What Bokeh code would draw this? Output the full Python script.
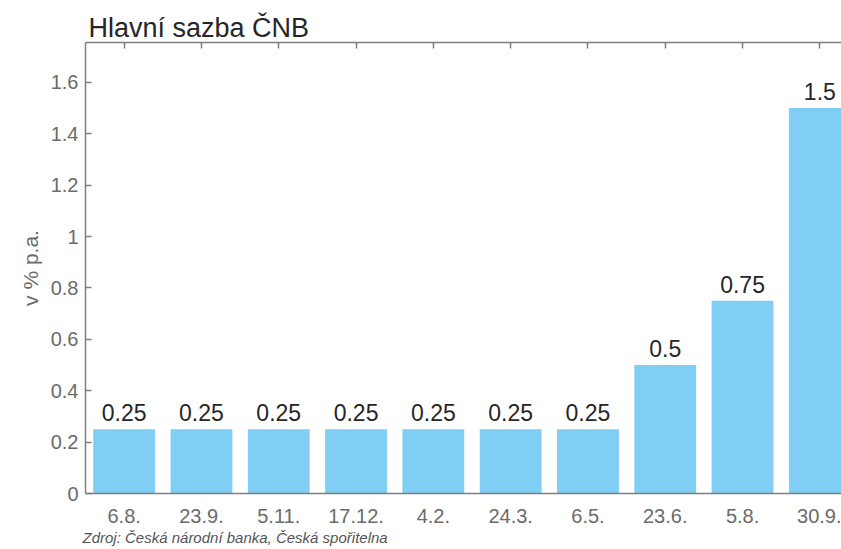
from bokeh.plotting import figure
from bokeh.models import Range1d, LinearAxis, FixedTicker, ColumnDataSource, LabelSet, Title
from bokeh.embed import file_html
from bokeh.resources import INLINE
from bokeh.core.properties import value

# ---- data ----
dates = ["6.8.", "23.9.", "5.11.", "17.12.", "4.2.", "24.3.", "6.5.", "23.6.", "5.8.", "30.9."]
rates = [0.25, 0.25, 0.25, 0.25, 0.25, 0.25, 0.25, 0.5, 0.75, 1.5]
rate_labels = ["0.25", "0.25", "0.25", "0.25", "0.25", "0.25", "0.25", "0.5", "0.75", "1.5"]
y_ticks = [0, 0.2, 0.4, 0.6, 0.8, 1.0, 1.2, 1.4, 1.6]
y_tick_labels = ["0", "0.2", "0.4", "0.6", "0.8", "1", "1.2", "1.4", "1.6"]
title_text = "Hlavní sazba ČNB"
y_label = "v % p.a."
source_text = "Zdroj: Česká národní banka, Česká spořitelna"

FONT = "Liberation Sans"
AXIS_COLOR = "#7f7f7f"
TICK_TEXT = "#6b6b6b"
BAR_COLOR = "#80cef4"

xs = list(range(1, len(dates) + 1))
src = ColumnDataSource(dict(x=xs, rate=rates, label=rate_labels))

p = figure(width=841, height=549, output_backend="svg", toolbar_location=None,
           x_range=Range1d(0.5, 10.28), y_range=Range1d(0, 1.755),
           min_border_left=85, min_border_right=0, min_border_top=42,
           min_border_bottom=56, title=title_text)
p.outline_line_color = None
p.grid.visible = False
p.background_fill_color = "white"

p.vbar(x="x", top="rate", width=0.8, source=src, fill_color=BAR_COLOR, line_color=None)
p.add_layout(LabelSet(x="x", y="rate", text="label", source=src, text_align="center",
                      text_baseline="alphabetic", y_offset=8, text_font=value(FONT),
                      text_font_size=value("23px"), text_color="#262626"))

# title
p.title.text_font = FONT
p.title.text_font_size = "27px"
p.title.text_font_style = "normal"
p.title.text_color = "#262626"
p.title.align = "left"
p.title.offset = 3
p.title.standoff = 0

# bottom axis
xa = p.xaxis[0]
xa.ticker = FixedTicker(ticks=xs)
xa.major_label_overrides = {i: d for i, d in zip(xs, dates)}
xa.major_tick_in = 0
xa.major_tick_out = 0
xa.minor_tick_line_color = None
xa.axis_line_color = AXIS_COLOR
xa.axis_line_width = 1.5
xa.major_label_standoff = 15
xa.major_label_text_font = FONT
xa.major_label_text_font_size = "20px"
xa.major_label_text_color = TICK_TEXT

# left axis
ya = p.yaxis[0]
ya.ticker = FixedTicker(ticks=y_ticks)
ya.major_label_overrides = {t: l for t, l in zip(y_ticks, y_tick_labels)}
ya.major_tick_in = 6
ya.major_tick_out = 0
ya.major_tick_line_color = AXIS_COLOR
ya.major_tick_line_width = 1.5
ya.minor_tick_line_color = None
ya.axis_line_color = AXIS_COLOR
ya.axis_line_width = 1.5
ya.major_label_standoff = 7
ya.major_label_text_font = FONT
ya.major_label_text_font_size = "20px"
ya.major_label_text_color = TICK_TEXT
ya.axis_label = y_label
ya.axis_label_text_font = FONT
ya.axis_label_text_font_size = "21px"
ya.axis_label_text_font_style = "normal"
ya.axis_label_text_color = TICK_TEXT
ya.axis_label_standoff = 6

# top axis (ticks only)
top = LinearAxis(ticker=FixedTicker(ticks=xs), major_tick_in=6, major_tick_out=0,
                 major_tick_line_color=AXIS_COLOR, major_tick_line_width=1.5,
                 minor_tick_line_color=None, axis_line_color=AXIS_COLOR,
                 axis_line_width=1.5, major_label_text_font_size="1px",
                 major_label_text_color=None, major_label_standoff=0)
p.add_layout(top, "above")

# source note
p.add_layout(Title(text=source_text, text_font=FONT, text_font_style="italic",
                   text_font_size="15px", text_color="#555555", align="left",
                   offset=-3, standoff=2), "below")

open("out.html", "w").write(file_html(p, INLINE))
